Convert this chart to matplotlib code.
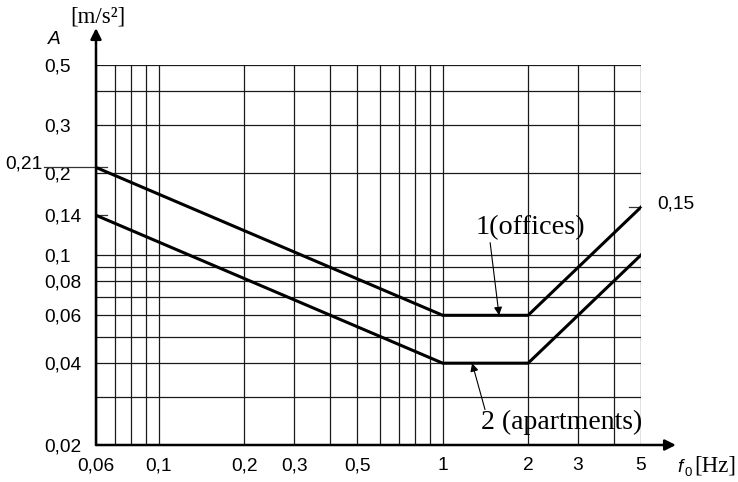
import numpy as np
import matplotlib
matplotlib.use("Agg")
from matplotlib import pyplot as plt

# limit curves: acceleration A [m/s2] against natural frequency f0 [Hz]
freq = [0.06, 1, 2, 5]
offices = [0.21, 0.06, 0.06, 0.15]
apartments = [0.14, 0.04, 0.04, 0.10]

x_grid = [0.06, 0.07, 0.08, 0.09, 0.1, 0.2, 0.3, 0.4, 0.5, 0.6, 0.7, 0.8, 0.9, 1, 2, 3, 4, 5]
y_grid = [0.02, 0.03, 0.04, 0.05, 0.06, 0.07, 0.08, 0.09, 0.1, 0.2, 0.3, 0.4, 0.5]

x_ticks = [0.06, 0.1, 0.2, 0.3, 0.5, 1, 2, 3, 5]
x_labels = ["0,06", "0,1", "0,2", "0,3", "0,5", "1", "2", "3", "5"]
y_ticks = [0.02, 0.04, 0.06, 0.08, 0.1, 0.14, 0.2, 0.3, 0.5]
y_labels = ["0,02", "0,04", "0,06", "0,08", "0,1", "0,14", "0,2", "0,3", "0,5"]

sans = "Liberation Sans"
serif = "Liberation Serif"
fs = 13.8

W, H = 738, 482
fig = plt.figure(figsize=(W / 100, H / 100), dpi=100)
ax = fig.add_axes([96 / W, 1 - 445 / H, (641 - 96) / W, (445 - 65) / H])
ax.set_xscale("log")
ax.set_yscale("log")
ax.set_xlim(0.06, 5)
ax.set_ylim(0.02, 0.5)
ax.minorticks_off()

for gx in x_grid:
    ax.axvline(gx, color="#1a1a1a", lw=0.9, zorder=1)
for gy in y_grid:
    ax.axhline(gy, color="#1a1a1a", lw=0.9, zorder=1)

for s in ax.spines.values():
    s.set_visible(False)

ax.set_xticks(x_ticks)
ax.set_xticklabels(x_labels, fontfamily=sans, fontsize=fs)
ax.set_yticks(y_ticks)
ax.set_yticklabels(y_labels, fontfamily=sans, fontsize=fs, ha="left")
ax.tick_params(axis="both", length=0)
ax.tick_params(axis="x", pad=9)
ax.tick_params(axis="y", pad=37)

ax.plot(freq, offices, color="black", lw=2.2, zorder=3, solid_joinstyle="miter")
ax.plot(freq, apartments, color="black", lw=2.2, zorder=3, solid_joinstyle="miter")

# small marker lines for the end values
ax.plot([0.0395, 0.0656], [0.21, 0.21], color="#333333", lw=0.9, clip_on=False)
ax.text(0.0388, 0.208, "0,21", fontfamily=sans, fontsize=fs, ha="right", va="baseline")
ax.plot([0.06, 0.0656], [0.14, 0.14], color="#333333", lw=0.9, clip_on=False)
ax.plot([4.55, 5], [0.15, 0.15], color="#333333", lw=0.9, clip_on=False)
ax.text(5.72, 0.154, "0,15", fontfamily=sans, fontsize=fs, ha="left", va="center")

# axis arrows
arrow = dict(arrowstyle="-|>", color="black", lw=1.8, mutation_scale=16, shrinkA=0, shrinkB=0)
ax.annotate("", xy=(1.064, 0), xytext=(0, 0), xycoords="axes fraction",
            textcoords="axes fraction", arrowprops=arrow, annotation_clip=False)
ax.annotate("", xy=(0, 1.097), xytext=(0, 0), xycoords="axes fraction",
            textcoords="axes fraction", arrowprops=arrow, annotation_clip=False)

# axis titles
fig.text(54 / W, 1 - 39 / H, "A", fontfamily=sans, fontstyle="italic", fontsize=fs,
         ha="center", va="center")
fig.text(98 / W, 1 - 17 / H, "[m/s²]", fontfamily=serif, fontsize=16.5, ha="center", va="center")
fig.text(680 / W, 1 - 467 / H, "f", fontfamily=sans, fontstyle="italic", fontsize=fs,
         ha="center", va="center")
fig.text(688 / W, 1 - 473 / H, "0", fontfamily=sans, fontsize=9.5, ha="center", va="center")
fig.text(715 / W, 1 - 466 / H, "[Hz]", fontfamily=serif, fontsize=16.5, ha="center", va="center")

# curve labels
thin = dict(arrowstyle="-|>", color="black", lw=0.8, mutation_scale=12, shrinkA=0, shrinkB=0)
ax.annotate("", xy=(1.58, 0.06), xytext=(1.47, 0.111), arrowprops=thin)
ax.text(1.31, 0.126, "1(offices)", fontfamily=serif, fontsize=20.3, ha="left", va="center")
ax.annotate("", xy=(1.27, 0.04), xytext=(1.41, 0.027), arrowprops=thin)
ax.text(1.37, 0.0242, "2 (apartments)", fontfamily=serif, fontsize=20, ha="left", va="center")

fig.savefig("out.png", dpi=100)
